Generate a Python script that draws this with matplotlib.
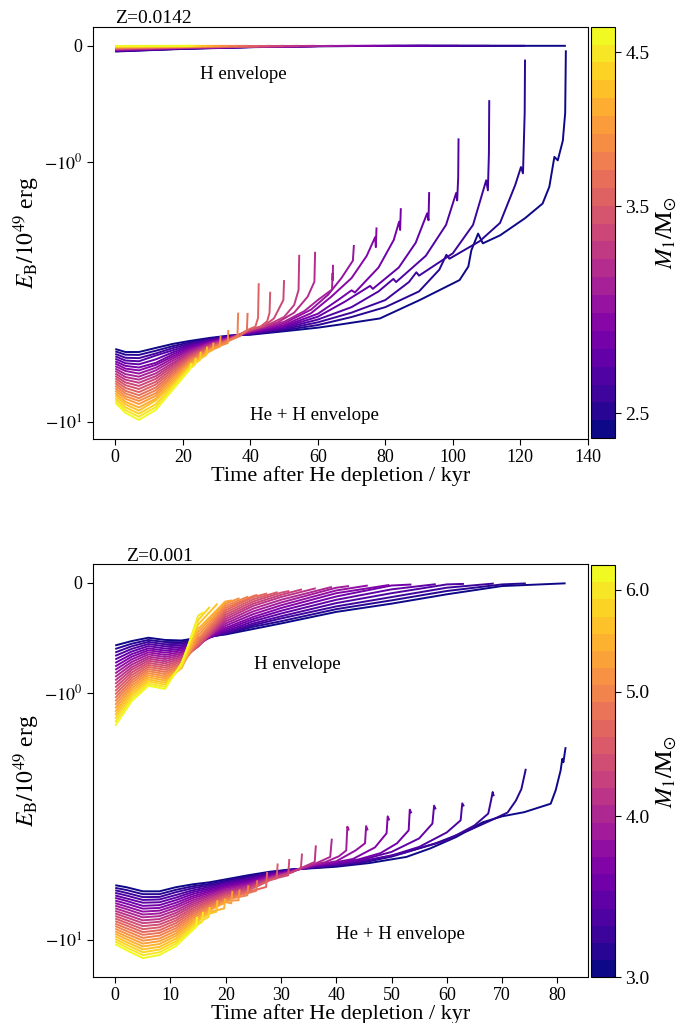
import numpy as np
import matplotlib
matplotlib.use('Agg')
import matplotlib.pyplot as plt
from matplotlib.colors import LogNorm
from matplotlib.cm import ScalarMappable
from matplotlib.ticker import NullLocator

plt.rcParams['font.family'] = ['Liberation Serif', 'DejaVu Serif']
plt.rcParams['mathtext.fontset'] = 'stix'

# ---------------- Z = 0.0142 (top panel) ----------------
top_masses = [2.44, 2.51, 2.58, 2.66, 2.74, 2.82, 2.90, 2.99, 3.07, 3.17, 3.26, 3.36,
              3.45, 3.56, 3.66, 3.77, 3.88, 4.00, 4.11, 4.24, 4.36, 4.49, 4.62]
top_t_end = [133.5, 121.4, 110.8, 101.7, 93.0, 84.6, 77.4, 70.7, 64.5, 59.2, 54.5, 50.0,
             45.9, 42.5, 39.2, 36.4, 33.5, 31.2, 29.1, 27.2, 25.3, 23.8, 22.5]

# |E_B| of He + H envelope (1e49 erg) on a common time grid (kyr)
top_he_grid = [0, 3, 7, 12, 17, 22, 28, 34, 40]
top_he_rows = [
    [5.24, 5.38, 5.38, 5.19, 5.01, 4.88, 4.75, 4.65, 4.62],
    [5.35, 5.51, 5.52, 5.32, 5.11, 4.94, 4.78, 4.66, 4.60],
    [5.47, 5.66, 5.68, 5.45, 5.20, 5.00, 4.82, 4.68, 4.58],
    [5.59, 5.80, 5.84, 5.55, 5.30, 5.06, 4.85, 4.69, 4.57],
    [5.71, 5.94, 6.00, 5.74, 5.40, 5.12, 4.88, 4.71, 4.55],
    [5.84, 6.08, 6.17, 5.92, 5.50, 5.17, 4.91, 4.72, 4.53],
    [5.96, 6.23, 6.33, 6.03, 5.60, 5.24, 4.94, 4.73, 4.51],
    [6.10, 6.36, 6.51, 6.18, 5.70, 5.29, 4.97, 4.74, 4.50],
    [6.23, 6.54, 6.69, 6.33, 5.81, 5.36, 5.00, 4.75, 4.48],
    [6.36, 6.71, 6.87, 6.50, 5.93, 5.42, 5.03, 4.77, 4.46],
    [6.51, 6.87, 7.06, 6.66, 6.03, 5.48, 5.07, 4.78, 4.44],
    [6.65, 7.04, 7.26, 6.82, 6.14, 5.55, 5.10, 4.80, 4.42],
    [6.79, 7.21, 7.46, 7.00, 6.25, 5.61, 5.13, 4.81, 4.40],
    [6.94, 7.39, 7.67, 7.17, 6.37, 5.68, 5.17, 4.82, 4.38],
    [7.09, 7.58, 7.88, 7.36, 6.49, 5.74, 5.20, 4.84],
    [7.25, 7.76, 8.09, 7.54, 6.62, 5.81, 5.24, 4.85],
    [7.41, 7.95, 8.29, 7.74, 6.71, 5.88, 5.27],
    [7.57, 8.13, 8.52, 7.92, 6.86, 5.96, 5.32],
    [7.74, 8.35, 8.78, 8.12, 6.98, 6.01, 5.35],
    [7.90, 8.54, 9.03, 8.25, 7.11, 6.09],
    [8.08, 8.77, 9.28, 8.53, 7.24, 6.16],
    [8.25, 8.99, 9.53, 8.75, 7.36, 6.23],
    [8.43, 9.21, 9.80, 8.97, 7.52, 6.30],
]
# late evolution up to the final spike: (time, |E_B|)
top_he_tails = [
    [(50, 4.48), (60, 4.34), (66.6, 4.22), (78.4, 4.00), (90.2, 3.40), (102, 2.85), (104.6, 2.53),
     (105.5, 2.19), (107.5, 1.89), (108.9, 2.06), (114, 1.92), (121.4, 1.65), (126.6, 1.45), (128.6, 1.25),
     (130.1, 0.96), (131.1, 0.99), (132.6, 0.82), (133.3, 0.58), (133.5, 0.04)],
    [(50, 4.44), (60, 4.24), (70, 3.95), (80, 3.62), (90, 3.15), (96, 2.60), (98.1, 2.28), (99.0, 2.36),
     (108, 2.02), (114, 1.72), (118.5, 1.23), (120.2, 1.05), (120.8, 1.11), (121.3, 0.58), (121.4, 0.12)],
    [(50, 4.40), (60, 4.14), (70, 3.80), (80, 3.40), (87, 2.90), (89.2, 2.66), (90.0, 2.74),
     (100, 2.25), (106, 1.75), (109.9, 1.18), (110.4, 1.29), (110.7, 0.93), (110.8, 0.47)],
    [(50, 4.36), (60, 4.04), (70, 3.62), (78, 3.15), (82.4, 2.82), (83.2, 2.90), (92, 2.30),
     (98, 1.75), (101.0, 1.32), (101.3, 1.41), (101.6, 1.15), (101.7, 0.80)],
    [(50, 4.32), (60, 3.94), (68, 3.45), (75.5, 3.00), (76.3, 3.08), (84, 2.55), (89, 2.05),
     (92.4, 1.58), (92.8, 1.68), (93.0, 1.31)],
    [(50, 4.28), (60, 3.84), (66, 3.40), (70, 3.12), (71, 3.18), (78, 2.55), (82.5, 2.00),
     (84.1, 1.70), (84.4, 1.83), (84.6, 1.51)],
    [(50, 4.24), (58, 3.82), (64, 3.30), (70, 2.80), (74.5, 2.30), (77.0, 1.95), (77.2, 2.13), (77.4, 1.79)],
    [(50, 4.18), (58, 3.70), (63, 3.25), (67, 2.80), (70.4, 2.40), (70.7, 2.09)],
    [(50, 4.12), (56, 3.75), (60, 3.40), (64.2, 3.10), (64.4, 2.68), (64.45, 2.85), (64.5, 2.49)],
    [(48, 4.15), (53, 3.80), (57, 3.30), (59.0, 2.89), (59.2, 2.22)],
    [(45, 4.25), (50, 3.95), (53, 3.55), (54.3, 3.11), (54.5, 2.28)],
    [(44, 4.28), (47, 4.00), (49.8, 3.40), (50.0, 2.85)],
    [(43, 4.30), (45.0, 4.10), (45.7, 3.81), (45.9, 3.16)],
    [(41.5, 4.30), (42.3, 3.98), (42.5, 2.93)],
    [(37, 4.67), (39.0, 4.43), (39.2, 3.81)],
    [(36.2, 4.70), (36.4, 3.80)],
    [(33.3, 4.97), (33.5, 4.43)],
    [(31.0, 5.13), (31.2, 4.67)],
    [(28.9, 5.28), (29.1, 4.95)],
    [(27.0, 5.52), (27.2, 5.13)],
    [(25.1, 5.77), (25.3, 5.36)],
    [(23.6, 6.03), (23.8, 5.67)],
    [(22.3, 6.19), (22.5, 5.93)],
]
# |E_B| of H envelope
top_h_grid = [0, 20, 40, 60, 90, 120]
top_h_rows = [
    [.050, .028, .013, .004, .001, .001], [.048, .026, .012, .004, .001, .001],
    [.046, .025, .012, .004, .001], [.043, .024, .011, .003, .001], [.041, .023, .010, .003, .001],
    [.039, .021, .010, .003], [.037, .020, .009, .003], [.035, .019, .009, .003], [.033, .018, .008, .003],
    [.030, .017, .008], [.028, .015, .007], [.026, .014, .007], [.024, .013, .006], [.022, .012, .006],
    [.019, .010], [.017, .009], [.015, .008], [.013, .007], [.011, .006], [.009, .005],
    [.006, .003], [.004, .002], [.002, .001],
]
top_h_end = [0.001] * 23

# ---------------- Z = 0.001 (bottom panel) ----------------
bot_masses = [3.05, 3.14, 3.24, 3.34, 3.45, 3.55, 3.66, 3.78, 3.90, 4.02, 4.14, 4.27,
              4.41, 4.54, 4.69, 4.83, 4.98, 5.14, 5.30, 5.46, 5.63, 5.81, 5.99, 6.18]
bot_t_end = [81.5, 74.3, 68.5, 63.1, 58.0, 53.6, 49.6, 45.7, 42.3, 39.2, 36.3, 33.8,
             31.5, 29.4, 27.5, 25.7, 24.1, 22.5, 21.2, 19.9, 18.5, 17.1, 15.9, 14.8]

bot_he_grid = [0, 2, 5, 8, 11, 14, 17, 20, 24, 28, 32, 36, 40]
bot_he_rows = [
    [6.00, 6.11, 6.35, 6.35, 6.11, 5.95, 5.84, 5.68, 5.47, 5.29, 5.17, 5.12, 5.05],
    [6.15, 6.27, 6.52, 6.52, 6.26, 6.06, 5.93, 5.75, 5.53, 5.33, 5.19, 5.10, 5.01],
    [6.29, 6.44, 6.70, 6.69, 6.40, 6.17, 6.01, 5.82, 5.59, 5.36, 5.20, 5.08, 4.98],
    [6.44, 6.60, 6.88, 6.85, 6.57, 6.29, 6.10, 5.88, 5.66, 5.40, 5.21, 5.06, 4.95],
    [6.60, 6.78, 7.06, 7.03, 6.73, 6.40, 6.19, 5.95, 5.72, 5.43, 5.22, 5.04, 4.92],
    [6.75, 6.94, 7.27, 7.22, 6.89, 6.52, 6.28, 6.02, 5.78, 5.46, 5.24, 5.02, 4.88],
    [6.92, 7.12, 7.46, 7.41, 7.06, 6.65, 6.37, 6.10, 5.84, 5.49, 5.25, 5.00, 4.84],
    [7.09, 7.31, 7.67, 7.60, 7.23, 6.77, 6.46, 6.16, 5.91, 5.53, 5.26, 4.97],
    [7.26, 7.49, 7.88, 7.80, 7.39, 6.90, 6.56, 6.24, 5.97, 5.56, 5.28, 4.94],
    [7.44, 7.69, 8.09, 8.00, 7.58, 7.03, 6.65, 6.32, 6.04, 5.60, 5.29],
    [7.62, 7.89, 8.32, 8.22, 7.76, 7.16, 6.75, 6.39, 6.11, 5.63, 5.31],
    [7.80, 8.09, 8.54, 8.43, 7.94, 7.29, 6.85, 6.47, 6.18, 5.67, 5.32],
    [7.99, 8.30, 8.78, 8.65, 8.14, 7.43, 6.96, 6.54, 6.25, 5.70],
    [8.18, 8.51, 9.03, 8.88, 8.33, 7.57, 7.06, 6.62, 6.32, 5.73],
    [8.38, 8.72, 9.28, 9.12, 8.53, 7.71, 7.16, 6.70, 6.39],
    [8.58, 8.95, 9.52, 9.35, 8.74, 7.86, 7.27, 6.78, 6.46],
    [8.78, 9.18, 9.79, 9.59, 8.95, 8.00, 7.38, 6.86],
    [9.00, 9.42, 10.05, 9.85, 9.17, 8.15, 7.49, 6.94],
    [9.22, 9.66, 10.33, 10.10, 9.40, 8.31, 7.59, 7.03],
    [9.43, 9.91, 10.61, 10.37, 9.61, 8.46, 7.70],
    [9.66, 10.17, 10.90, 10.65, 9.85, 8.62, 7.82],
    [9.90, 10.43, 11.20, 10.91, 10.09, 8.78],
    [10.13, 10.70, 11.50, 11.20, 10.32, 8.95],
    [10.38, 10.97, 11.82, 11.49, 10.57, 9.12],
]
bot_he_tails = [
    [(46, 4.88), (52.7, 4.61), (57, 4.26), (61.7, 3.83), (66.5, 3.34), (70, 3.16), (74, 3.04),
     (78.8, 2.81), (79.7, 2.48), (80.6, 2.06), (80.9, 1.85), (81.1, 1.91), (81.5, 1.66)],
    [(44, 4.90), (50, 4.60), (58, 4.06), (64, 3.60), (68, 3.28), (71, 3.05), (72.5, 2.73), (73.5, 2.45),
     (74.0, 2.18), (74.3, 2.03)],
    [(44, 4.86), (52, 4.45), (60, 3.95), (65, 3.44), (67.5, 3.08), (68.0, 2.73), (68.3, 2.52), (68.5, 2.62)],
    [(44, 4.82), (50, 4.55), (55, 4.20), (60, 3.67), (62.5, 3.28), (62.8, 2.80), (63.1, 2.88)],
    [(44, 4.78), (50, 4.40), (55, 3.88), (57.4, 3.38), (57.7, 2.86), (58.0, 2.96)],
    [(44, 4.72), (48, 4.45), (51, 4.06), (53.1, 3.60), (53.3, 2.97), (53.6, 3.07)],
    [(43, 4.70), (47, 4.22), (49.1, 3.70), (49.3, 3.16), (49.6, 3.28)],
    [(40, 4.80), (43.5, 4.34), (45.2, 4.06), (45.4, 3.46), (45.7, 3.60)],
    [(38, 4.84), (40.5, 4.58), (41.8, 4.34), (42.0, 3.48), (42.3, 3.60)],
    [(36, 4.93), (38.9, 4.61), (39.2, 3.89)],
    [(36.1, 4.83), (36.3, 4.14)],
    [(33.6, 5.11), (33.8, 4.47)],
    [(31.3, 5.47), (31.5, 4.70)],
    [(29.2, 5.63), (29.4, 4.90)],
    [(27.3, 6.10), (27.5, 5.30)],
    [(25.5, 6.32), (25.7, 5.73)],
    [(23.9, 6.59), (24.1, 6.00)],
    [(22.3, 6.90), (22.5, 6.25)],
    [(21.0, 7.10), (21.2, 6.32)],
    [(19.7, 7.45), (19.9, 6.79)],
    [(18.3, 7.68), (18.5, 6.90)],
    [(16.9, 8.05), (17.1, 7.35)],
    [(15.7, 8.45), (15.9, 7.68)],
    [(14.6, 8.87), (14.8, 8.05)],
]
bot_h_grid = [0, 3, 6, 9, 12, 15, 20, 25, 30, 40, 50, 60, 70]
bot_h_rows = [
    [.570, .530, .500, .520, .525, .50, .47, .42, .37, .265, .19, .105, .03],
    [.602, .554, .520, .539, .54, .51, .465, .40, .35, .24, .16, .075, .015],
    [.634, .577, .538, .559, .555, .52, .46, .385, .325, .215, .13, .045],
    [.665, .601, .557, .578, .57, .53, .45, .37, .305, .185, .095, .015],
    [.697, .625, .576, .598, .585, .54, .44, .35, .28, .155, .06],
    [.729, .649, .596, .617, .60, .55, .425, .33, .255, .125, .025],
    [.761, .672, .614, .636, .615, .56, .41, .31, .23, .095],
    [.792, .696, .633, .656, .63, .565, .39, .285, .205, .07],
    [.824, .720, .652, .675, .645, .57, .37, .26, .18, .045],
    [.856, .744, .672, .694, .66, .575, .35, .235, .155],
    [.888, .768, .690, .714, .675, .58, .33, .21, .13],
    [.920, .791, .709, .733, .69, .58, .31, .19, .11],
    [.952, .815, .728, .753, .705, .575, .29, .17, .09],
    [.984, .839, .747, .772, .72, .565, .27, .15],
    [1.016, .863, .766, .791, .735, .55, .25, .13],
    [1.049, .887, .785, .811, .75, .53, .23, .12],
    [1.083, .910, .804, .830, .76, .51, .21],
    [1.119, .934, .823, .850, .77, .48, .19],
    [1.156, .958, .842, .869, .775, .45, .17],
    [1.194, .982, .861, .888, .775, .42],
    [1.232, 1.006, .880, .908, .77, .38],
    [1.273, 1.030, .898, .927, .76, .34],
    [1.315, 1.055, .918, .947, .75, .30],
    [1.359, 1.081, .937, .966, .73],
]
bot_h_end = [.005, .006, .007, .01, .013, .016, .02, .025, .03, .038, .05, .06,
             .075, .085, .097, .11, .125, .14, .16, .17, .19, .22, .27, .36]


def draw_panel(ax, cax, masses, norm, cmap, t_end, he_grid, he_rows, he_tails,
               h_grid, h_rows, h_end, title, cticks, xlim, ylim, h_label, he_label):
    for k in range(len(masses)):
        c = cmap(norm(masses[k]))
        th = list(h_grid[:len(h_rows[k])]) + [t_end[k]]
        eh = list(h_rows[k]) + [h_end[k]]
        ax.plot(th, -np.array(eh), color=c, lw=1.4, solid_capstyle='butt')
        te = list(he_grid[:len(he_rows[k])]) + [p[0] for p in he_tails[k]]
        ee = list(he_rows[k]) + [p[1] for p in he_tails[k]]
        ax.plot(te, -np.array(ee), color=c, lw=1.4, solid_capstyle='butt')

    ax.set_yscale('symlog', linthresh=1, linscale=0.4)
    ax.set_xlim(*xlim)
    ax.set_ylim(*ylim)
    ax.set_yticks([-10, -1, 0])
    ax.set_yticklabels([r'$-10^{1}$', r'$-10^{0}$', '0'])
    ax.yaxis.set_minor_locator(NullLocator())
    ax.xaxis.set_minor_locator(NullLocator())
    ax.tick_params(labelsize=13, length=4, direction='out')
    ax.set_xlabel('Time after He depletion / kyr', fontsize=16, labelpad=0)
    ax.set_ylabel(r'$E_\mathrm{B}/10^{49}$ erg', fontsize=17, labelpad=1)
    ax.text(title[1], 1.008, title[0], transform=ax.transAxes, fontsize=14,
            ha='left', va='baseline')
    ax.text(h_label[0], h_label[1], 'H envelope', fontsize=13.6, ha='center', va='center')
    ax.text(he_label[0], he_label[1], 'He + H envelope', fontsize=13.6, ha='center', va='center')

    sm = ScalarMappable(norm=norm, cmap=cmap)
    cb = plt.colorbar(sm, cax=cax)
    cb.set_ticks(cticks)
    cb.set_ticklabels(['%.1f' % v for v in cticks])
    cb.ax.minorticks_off()
    cb.ax.tick_params(labelsize=14, length=4)
    cb.set_label(r'$M_1/\mathrm{M}_{\odot}$', fontsize=17.5, labelpad=4)


fig = plt.figure(figsize=(6.83, 10.23), dpi=100)
ax1 = fig.add_axes([0.1357, 0.5709, 0.7259, 0.4030])
cax1 = fig.add_axes([0.8653, 0.5716, 0.0351, 0.4023])
ax2 = fig.add_axes([0.1357, 0.0453, 0.7256, 0.4031])
cax2 = fig.add_axes([0.8653, 0.0447, 0.0351, 0.4030])

draw_panel(ax1, cax1, top_masses, LogNorm(2.40, 4.69), plt.get_cmap('plasma', 23), top_t_end,
           top_he_grid, top_he_rows, top_he_tails, top_h_grid, top_h_rows, top_h_end,
           ('Z=0.0142', 0.045), [2.5, 3.5, 4.5], (-6.7, 140.2), (-11.6, 0.164),
           (38, -0.25), (59, -9.4))
draw_panel(ax2, cax2, bot_masses, LogNorm(3.0, 6.27), plt.get_cmap('plasma', 24), bot_t_end,
           bot_he_grid, bot_he_rows, bot_he_tails, bot_h_grid, bot_h_rows, bot_h_end,
           ('Z=0.001', 0.067), [3.0, 4.0, 5.0, 6.0], (-4.08, 85.6), (-14.05, 0.168),
           (33, -0.74), (51.7, -9.45))

fig.savefig('out.png', dpi=100)
